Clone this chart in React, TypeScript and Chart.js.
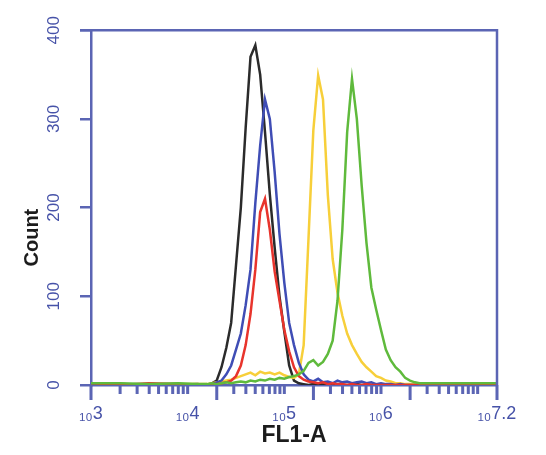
import { useEffect, useRef } from "react"
import { Chart, registerables } from "chart.js"

Chart.register(...registerables)

// bin positions (log10 of FL1-A)
const LOG_BINS = [
  3.0, 3.3, 3.6, 3.9, 4.1,
  4.2, 4.25, 4.3, 4.35, 4.4, 4.45, 4.5, 4.55, 4.6, 4.65,
  4.7, 4.75, 4.8, 4.85, 4.9, 4.95, 5.0, 5.05, 5.1, 5.15,
  5.2, 5.25, 5.3, 5.35, 5.4, 5.45, 5.5, 5.55, 5.6, 5.65,
  5.7, 5.75, 5.8, 5.85, 5.9, 5.95, 6.0, 6.05, 6.1, 6.15,
  6.2, 6.25, 6.3, 6.35, 6.4,
  6.6, 6.9, 7.2,
]

const BLACK = [
  1, 0, 1, 0, 1,
  0, 2, 5, 20, 42, 70, 135, 200, 290, 370,
  383, 350, 285, 215, 155, 100, 60, 22, 5, 2,
  1, 0, 1, 0, 1, 0, 0, 1, 0, 0,
  0, 1, 0, 0, 0, 0, 0, 0, 0, 0,
  0, 0, 0, 0, 0,
  0, 0, 0,
]

const BLUE = [
  1, 1, 0, 1, 0,
  0, 1, 3, 5, 12, 22, 40, 58, 90, 130,
  205, 270, 322, 300, 240, 170, 115, 70, 45, 25,
  12, 6, 4, 7, 3, 4, 2, 5, 3, 4,
  2, 3, 4, 2, 3, 1, 2, 1, 1, 0,
  1, 0, 0, 0, 0,
  0, 0, 0,
]

const RED = [
  2, 0, 2, 1, 0,
  0, 1, 1, 2, 3, 5, 10, 22, 45, 80,
  130, 195, 210, 175, 128, 95, 62, 38, 20, 10,
  6, 4, 3, 2, 3, 1, 2, 1, 1, 0,
  1, 0, 0, 1, 0, 0, 0, 0, 0, 0,
  0, 0, 0, 0, 0,
  0, 0, 0,
]

const YELLOW = [
  0, 1, 0, 1, 1,
  1, 2, 3, 4, 5, 6, 8, 10, 12, 14,
  11, 15, 13, 14, 12, 14, 11, 9, 8, 12,
  45, 165, 287, 349, 322, 214, 142, 104, 78, 58,
  45, 35, 26, 20, 15, 10, 8, 5, 4, 2,
  2, 1, 1, 1, 0,
  0, 1, 0,
]

const GREEN = [
  2, 2, 1, 2, 1,
  1, 2, 1, 2, 3, 2, 3, 4, 3, 5,
  4, 6, 5, 7, 6, 8, 7, 9, 10, 12,
  16, 25, 28, 22, 26, 35, 50, 95, 175, 285,
  345, 300, 225, 160, 110, 85, 62, 40, 28, 20,
  15, 8, 5, 3, 2,
  2, 2, 2,
]

const X_TICK_VALUES = [1e3, 1e4, 1e5, 1e6, 10 ** 7.2]
const X_TICK_LABELS = ["₁₀3", "₁₀4", "₁₀5", "₁₀6", "₁₀7.2"]
const TALL_X_TICKS = [1e3, 2e4, 2e5, 2e6, 10 ** 7.2]
const DECADES = [3, 4, 5, 6, 7]
const Y_TICKS = [0, 100, 200, 300, 400]
const X_TITLE = "FL1-A"
const Y_TITLE = "Count"

const AXIS_COLOR = "#5b65b4"
const TICK_COLOR = "#4652a8"
const FONT = "'Liberation Sans', Arial, sans-serif"

// top/right frame, x tick marks and the y title
const framePlugin = {
  id: "frame",
  afterDraw(chart: any) {
    const { ctx, chartArea: a, scales } = chart
    const xs = scales.x
    ctx.save()
    ctx.strokeStyle = AXIS_COLOR
    ctx.lineWidth = 2.5
    ctx.beginPath()
    ctx.moveTo(a.left - 11, a.top)
    ctx.lineTo(a.right, a.top)
    ctx.lineTo(a.right, a.bottom)
    ctx.stroke()

    const marks: number[] = []
    DECADES.forEach((d) => {
      for (let m = 1; m <= 9; m++) {
        const v = m * 10 ** d
        if (v <= 10 ** 7.2) marks.push(v)
      }
    })
    marks.push(10 ** 7.2)
    ctx.lineWidth = 3
    ctx.beginPath()
    marks.forEach((v) => {
      const px = xs.getPixelForValue(v)
      const tall = TALL_X_TICKS.some((t) => Math.abs(t - v) / t < 1e-6)
      ctx.moveTo(px, a.bottom)
      ctx.lineTo(px, a.bottom + (tall ? 15 : 9))
    })
    ctx.stroke()

    ctx.translate(24, (a.top + a.bottom) / 2 + 30)
    ctx.rotate(-Math.PI / 2)
    ctx.fillStyle = "#1c1c1c"
    ctx.font = `bold 20px ${FONT}`
    ctx.textAlign = "center"
    ctx.textBaseline = "middle"
    ctx.fillText(Y_TITLE, 0, 0)
    ctx.restore()
  },
}

function series(label: string, values: number[], color: string) {
  return {
    label,
    data: LOG_BINS.map((lx, i) => ({ x: 10 ** lx, y: values[i] })),
    borderColor: color,
    backgroundColor: color,
    borderWidth: 2.5,
    pointRadius: 0,
    fill: false,
    tension: 0,
  }
}

export default function App() {
  const chartRef = useRef<HTMLCanvasElement>(null)
  const chartInstance = useRef<Chart | null>(null)

  useEffect(() => {
    if (!chartRef.current) return
    if (chartInstance.current) chartInstance.current.destroy()

    chartInstance.current = new Chart(chartRef.current, {
      type: "line",
      data: {
        datasets: [
          series("green", GREEN, "#5fba3c"),
          series("red", RED, "#e8342c"),
          series("blue", BLUE, "#3f4db5"),
          series("yellow", YELLOW, "#f7cf3a"),
          series("black", BLACK, "#2b2b2b"),
        ],
      },
      plugins: [framePlugin],
      options: {
        responsive: true,
        maintainAspectRatio: false,
        animation: false,
        layout: { padding: { top: 16.5, right: 41, left: 0, bottom: 0 } },
        plugins: {
          legend: { display: false },
          tooltip: { enabled: false },
        },
        scales: {
          x: {
            type: "logarithmic",
            min: 1000,
            max: 10 ** 7.2,
            afterBuildTicks: (s: any) => {
              s.ticks = X_TICK_VALUES.map((v) => ({ value: v }))
            },
            afterFit: (s: any) => {
              s.height = 62
            },
            border: { display: true, color: AXIS_COLOR, width: 2.5 },
            grid: { display: false, drawTicks: false },
            ticks: {
              autoSkip: false,
              maxRotation: 0,
              minRotation: 0,
              color: TICK_COLOR,
              padding: 18,
              font: { family: FONT, size: 18 },
              callback: (_v: any, i: number) => X_TICK_LABELS[i],
            },
            title: {
              display: true,
              text: X_TITLE,
              color: "#1c1c1c",
              padding: 0,
              font: { family: FONT, size: 23, weight: "bold", lineHeight: 1 },
            },
          },
          y: {
            min: 0,
            max: 400,
            afterBuildTicks: (s: any) => {
              s.ticks = Y_TICKS.map((v) => ({ value: v }))
            },
            afterFit: (s: any) => {
              s.width = 83
            },
            border: { display: true, color: AXIS_COLOR, width: 2.5 },
            grid: {
              drawOnChartArea: false,
              drawTicks: true,
              tickLength: 11,
              color: AXIS_COLOR,
              lineWidth: 2.5,
            },
            ticks: {
              color: TICK_COLOR,
              font: { family: FONT, size: 17 },
              minRotation: 90,
              maxRotation: 90,
              crossAlign: "center",
              padding: 12,
            },
          },
        },
      } as any,
    })

    return () => {
      if (chartInstance.current) {
        chartInstance.current.destroy()
        chartInstance.current = null
      }
    }
  }, [])

  return (
    <div style={{ height: "439px", width: "100%" }}>
      <canvas ref={chartRef} />
    </div>
  )
}
